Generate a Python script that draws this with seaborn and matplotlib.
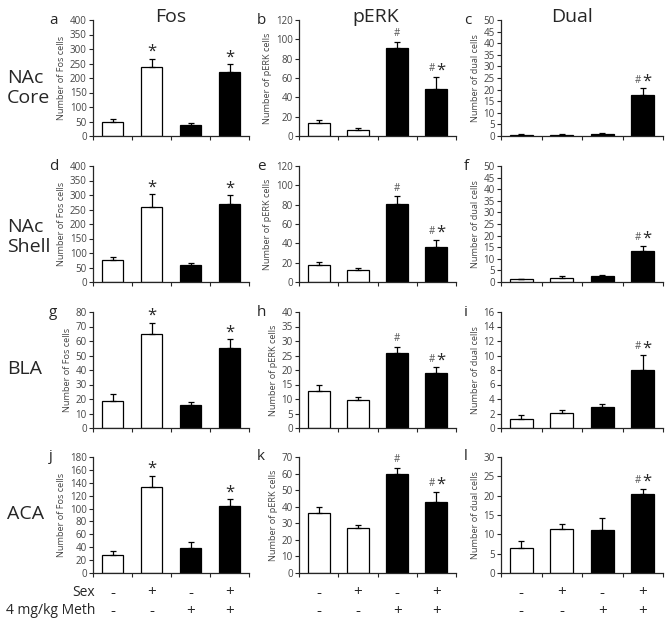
import numpy as np, pandas as pd
import matplotlib
matplotlib.use("Agg")
import matplotlib.pyplot as plt
import seaborn as sns

# ---- data ----
groups = ["Control", "Sex", "Meth", "Sex+Meth"]
fills = ["white", "white", "black", "black"]
sex_signs = ["-", "+", "-", "+"]
meth_signs = ["-", "-", "+", "+"]

regions = ["NAc\nCore", "NAc\nShell", "BLA", "ACA"]
markers = ["Fos", "pERK", "Dual"]
ylabels = ["Number of Fos cells", "Number of pERK cells", "Number of dual cells"]

fos_mean = [[50, 237, 38, 219], [77, 260, 57, 270], [18.4, 65, 16, 55], [28, 133, 39, 104]]
fos_err = [[9, 30, 7, 30], [9, 43, 7, 30], [5, 7.6, 1.6, 6.4], [5.5, 18, 8.8, 11]]
perk_mean = [[13.5, 6.6, 91, 49], [18, 12, 80.5, 36.3], [12.8, 9.7, 26, 18.9], [36, 27.4, 60, 42.9]]
perk_err = [[3, 2, 6.5, 12], [2.5, 2, 8, 7.5], [2, 1, 2, 2], [4, 1.4, 3.4, 6.2]]
dual_mean = [[0.5, 0.5, 1.0, 17.5], [1.1, 1.9, 2.7, 13.4], [1.24, 2.1, 2.9, 8.05], [6.5, 11.3, 11.2, 20.5]]
dual_err = [[0.2, 0.2, 0.3, 3.0], [0.4, 0.5, 0.5, 2.3], [0.5, 0.4, 0.45, 2.05], [1.8, 1.5, 3.1, 1.3]]

fos_ymax = [400, 400, 80, 180]; fos_step = [50, 50, 10, 20]
perk_ymax = [120, 120, 40, 70]; perk_step = [20, 20, 5, 10]
dual_ymax = [50, 50, 16, 30]; dual_step = [5, 5, 2, 5]

fos_sig = ["", "*", "", "*"]
perk_sig = ["", "", "#", "#*"]
dual_sig = ["", "", "", "#*"]

letters = "abcdefghijkl"

# ---- layout (pixels) ----
W, H = 672, 623
col_left = [93, 299, 501]
col_w = [156, 157, 162]
row_top = [20, 166, 312, 457]
ax_h = 116
letter_x = [49, 257, 464]
title_x = [171, 376, 572]
region_y = [88, 237, 369, 514]

sns.set_style("ticks")
plt.rcParams["font.family"] = ["Open Sans", "DejaVu Sans"]

fig = plt.figure(figsize=(W / 100, H / 100), dpi=100)

def px_axes(left, top, w, h):
    return fig.add_axes([left / W, 1 - (top + h) / H, w / W, h / H])

def draw_panel(ax, means, errs, sig, ymax, ystep, ylabel):
    df = pd.DataFrame({"group": groups, "value": means})
    sns.barplot(data=df, x="group", y="value", hue="group", order=groups,
                palette=dict(zip(groups, fills)), edgecolor="black", linewidth=0.9,
                width=0.56, errorbar=None, legend=False, ax=ax)
    xs = np.arange(len(groups))
    ax.errorbar(xs, means, yerr=[np.zeros(len(means)), errs], fmt="none",
                ecolor="black", elinewidth=0.9, capsize=2, capthick=0.9, zorder=3)
    for i, s in enumerate(sig):
        top = means[i] + errs[i]
        if s == "*":
            ax.annotate("*", xy=(i, top), xytext=(0, -1), textcoords="offset points",
                        ha="center", va="bottom", fontsize=12)
        elif s == "#":
            ax.annotate("#", xy=(i, top), xytext=(0, 2), textcoords="offset points",
                        ha="center", va="bottom", fontsize=7, color="#555555")
        elif s == "#*":
            ax.annotate("#", xy=(i, top), xytext=(-3.5, 2), textcoords="offset points",
                        ha="center", va="bottom", fontsize=7, color="#555555")
            ax.annotate("*", xy=(i, top), xytext=(3, -1), textcoords="offset points",
                        ha="center", va="bottom", fontsize=12)
    ax.set_xlim(-0.5, 3.5)
    ax.set_xticks(np.arange(-0.5, 4, 1))
    ax.set_xticklabels([])
    ax.set_ylim(0, ymax)
    ax.set_yticks(np.arange(0, ymax + ystep / 2, ystep))
    ax.tick_params(axis="y", direction="out", length=3, width=0.8, labelsize=7,
                   labelcolor="#444444", pad=1.5)
    ax.tick_params(axis="x", direction="out", length=3, width=0.8)
    ax.set_xlabel("")
    ax.set_ylabel(ylabel, fontsize=6.6, color="#444444", labelpad=2.5)
    for sp in ("left", "bottom"):
        ax.spines[sp].set_linewidth(0.9)
    sns.despine(ax=ax)

data = [(fos_mean, fos_err, fos_sig, fos_ymax, fos_step),
        (perk_mean, perk_err, perk_sig, perk_ymax, perk_step),
        (dual_mean, dual_err, dual_sig, dual_ymax, dual_step)]

for r in range(4):
    for c in range(3):
        means, errs, sig, ymax, step = data[c]
        ax = px_axes(col_left[c], row_top[r], col_w[c], ax_h)
        draw_panel(ax, means[r], errs[r], sig, ymax[r], step[r], ylabels[c])
        fig.text(letter_x[c] / W, 1 - row_top[r] / H, letters[r * 3 + c],
                 fontsize=11, ha="left", va="center")
        if r == 3:
            for i in range(4):
                ax.annotate(sex_signs[i], xy=(i, 0), xytext=(0, -14.4), textcoords="offset points",
                            ha="center", va="center", fontsize=11, annotation_clip=False)
                ax.annotate(meth_signs[i], xy=(i, 0), xytext=(0, -27.4), textcoords="offset points",
                            ha="center", va="center", fontsize=11, annotation_clip=False)
    fig.text(7 / W, 1 - region_y[r] / H, regions[r], fontsize=14, ha="left", va="center",
             linespacing=1.15)

for c in range(3):
    fig.text(title_x[c] / W, 1 - 17 / H, markers[c], fontsize=14, ha="center", va="center")

fig.text(95 / W, 1 - 593 / H, "Sex", fontsize=10, ha="right", va="center")
fig.text(95 / W, 1 - 611 / H, "4 mg/kg Meth", fontsize=10, ha="right", va="center")

fig.savefig("out.png", dpi=100)
